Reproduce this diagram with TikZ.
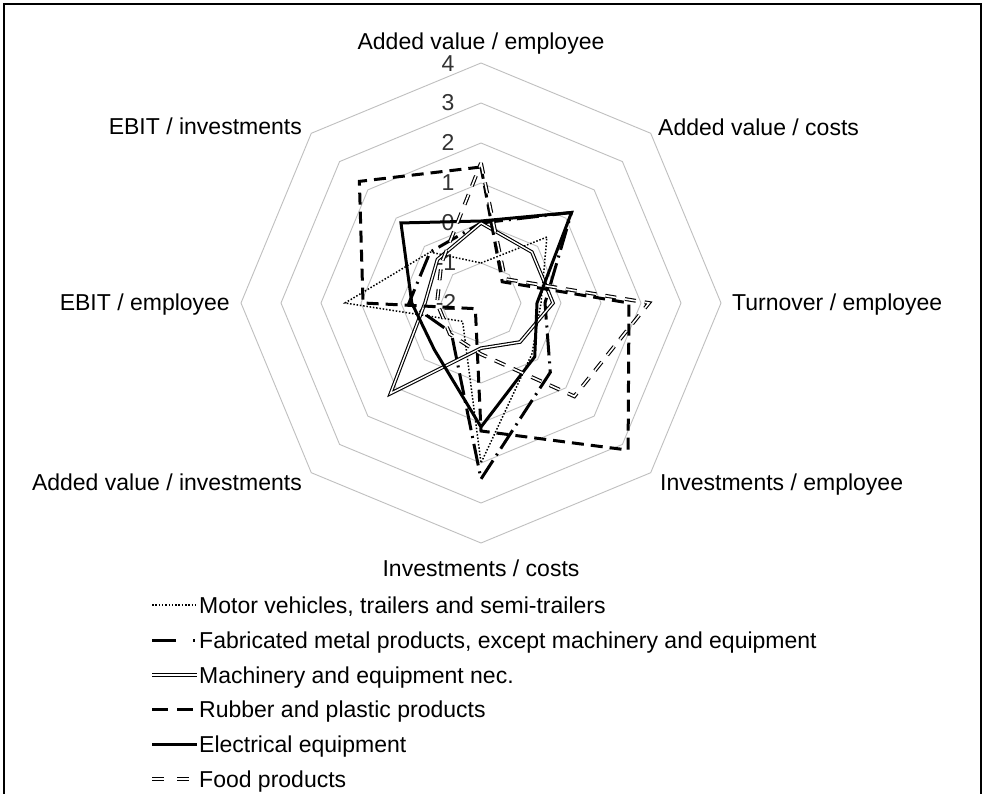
\documentclass[tikz,border=0pt]{standalone}
\usepackage{fontspec}
\setmainfont{Liberation Sans}
\newcommand\radarseries[2]{%
  \foreach \v [count=\k from 0] in {#2} {%
    \coordinate (#1\k) at ({-90+45*\k}:{(\v+2)*40});%
  }%
}
\begin{document}
\begin{tikzpicture}[x=1pt,y=-1pt,
  ring/.style={draw=black!25, line width=0.9pt},
  lab/.style={inner sep=0pt, font=\fontsize{23}{27}\selectfont, text=black},
  num/.style={lab, text=black!80},
  motor/.style={line width=1.5pt, dash pattern=on 1.5pt off 1.8pt},
  fab/.style={line width=3pt, dash pattern=on 22pt off 6pt on 2pt off 6pt},
  mach/.style={double=white, line width=1.1pt, double distance=1.4pt},
  rubber/.style={line width=3pt, dash pattern=on 12pt off 7pt},
  elec/.style={line width=3pt},
  food/.style={double=white, line width=1.1pt, double distance=1.6pt, dash pattern=on 11pt off 9pt},
]
\useasboundingbox (0,0) rectangle (985,794);
\fill[white] (0,0) rectangle (985,794);
\draw[line width=1.5pt] (4,800) -- (4,4) -- (981,4) -- (981,800);

\begin{scope}[shift={(481,303)}]
  \foreach \r in {1,...,6} {
    \draw[ring] ({-90}:{\r*40}) -- ({-45}:{\r*40}) -- ({0}:{\r*40}) -- ({45}:{\r*40})
      -- ({90}:{\r*40}) -- ({135}:{\r*40}) -- ({180}:{\r*40}) -- ({225}:{\r*40}) -- cycle;
  }
  % values: top, upper right, right, lower right, bottom, lower left, left, upper left
  \radarseries{mo}{-1.0, 0.33, -0.5, -0.2, 2.0, -1.35, 1.4, -0.2}
  \radarseries{fa}{0.0, 1.2, -0.4, 0.45, 2.4, -0.95, -0.2, -0.2}
  \radarseries{ma}{0.0, -0.2, -0.2, -0.62, -0.87, 1.2, -0.6, -0.46}
  \radarseries{ru}{1.4, -1.25, 1.7, 3.2, 1.2, -1.8, 0.95, 2.3}
  \radarseries{el}{0.05, 1.2, -0.6, -0.1, 1.1, -0.35, -0.27, 0.83}
  \radarseries{fo}{1.5, -1.15, 2.2, 1.3, -0.72, -0.9, -0.9, -0.6}
\end{scope}

% axis value labels
\node[num, anchor=base] (n4) at (448,72) {4};
\node[num, anchor=base] (n3) at (448,111) {3};
\node[num, anchor=base] (n2) at (448,151) {2};
\node[num, anchor=base] (n1) at (448,191) {1};
\node[num, anchor=base] (n0) at (448,231) {0};
\node[num, anchor=base] (nm1) at (446,271) {-1};
\node[num, anchor=base] (nm2) at (446,311) {-2};

% data series
\draw[motor] (mo0) -- (mo1) -- (mo2) -- (mo3) -- (mo4) -- (mo5) -- (mo6) -- (mo7) -- cycle;
\draw[fab] (fa0) -- (fa1) -- (fa2) -- (fa3) -- (fa4) -- (fa5) -- (fa6) -- (fa7) -- cycle;
\draw[mach] (ma0) -- (ma1) -- (ma2) -- (ma3) -- (ma4) -- (ma5) -- (ma6) -- (ma7) -- cycle;
\draw[rubber] (ru0) -- (ru1) -- (ru2) -- (ru3) -- (ru4) -- (ru5) -- (ru6) -- (ru7) -- cycle;
\draw[elec] (el0) -- (el1) -- (el2) -- (el3) -- (el4) -- (el5) -- (el6) -- (el7) -- cycle;
\draw[food] (fo0) -- (fo1) -- (fo2) -- (fo3) -- (fo4) -- (fo5) -- (fo6) -- (fo7) -- cycle;

% axis titles
\node[lab, anchor=base] (a0) at (481,50) {Added value / employee};
\node[lab, anchor=base west] (a1) at (658,136) {Added value / costs};
\node[lab, anchor=base west] (a2) at (732,311) {Turnover / employee};
\node[lab, anchor=base west] (a3) at (660,490) {Investments / employee};
\node[lab, anchor=base] (a4) at (481,576) {Investments / costs};
\node[lab, anchor=base east] (a5) at (302,490) {Added value / investments};
\node[lab, anchor=base east] (a6) at (230,311) {EBIT / employee};
\node[lab, anchor=base east] (a7) at (302,135) {EBIT / investments};

% legend
\coordinate (s1a) at (152,605); \coordinate (s1b) at (197,605);
\coordinate (s2a) at (152,640); \coordinate (s2b) at (197,640);
\coordinate (s3a) at (152,675); \coordinate (s3b) at (197,675);
\coordinate (s4a) at (152,709); \coordinate (s4b) at (197,709);
\coordinate (s5a) at (152,744); \coordinate (s5b) at (197,744);
\coordinate (s6a) at (152,779); \coordinate (s6b) at (197,779);
\draw[motor] (s1a) -- (s1b);
\draw[line width=3pt, dash pattern=on 24pt off 17pt on 2pt off 20pt] (s2a) -- (s2b);
\draw[mach] (s3a) -- (s3b);
\draw[line width=3pt, dash pattern=on 16pt off 9pt] (s4a) -- (s4b);
\draw[elec] (s5a) -- (s5b);
\draw[double=white, line width=1.1pt, double distance=1.6pt, dash pattern=on 12pt off 13pt] (s6a) -- (s6b);
\node[lab, anchor=base west] (l1) at (199,613) {Motor vehicles, trailers and semi-trailers};
\node[lab, anchor=base west] (l2) at (199,648) {Fabricated metal products, except machinery and equipment};
\node[lab, anchor=base west] (l3) at (199,683) {Machinery and equipment nec.};
\node[lab, anchor=base west] (l4) at (199,717) {Rubber and plastic products};
\node[lab, anchor=base west] (l5) at (199,752) {Electrical equipment};
\node[lab, anchor=base west] (l6) at (199,787) {Food products};
\end{tikzpicture}
\end{document}
